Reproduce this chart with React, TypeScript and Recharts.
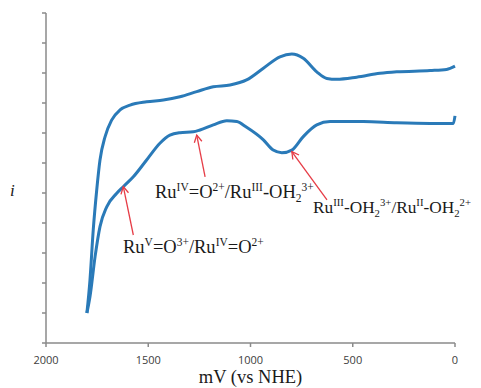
import React from "react";
import {
  LineChart,
  Line,
  XAxis,
  YAxis,
  ReferenceLine,
} from "recharts";

// forward (upper) and return (lower) branches, both starting at the 1800 mV turn
const upperPotential = [1800, 1785, 1769, 1752, 1736, 1711, 1679, 1638, 1589, 1508, 1426, 1345, 1263, 1182, 1100, 1019, 937, 856, 798, 742, 676, 627, 578, 481, 367, 285, 122, 41, 0];
const upperCurrent = [1.0, 2.1, 3.77, 5.1, 6.1, 6.88, 7.43, 7.77, 7.93, 8.04, 8.1, 8.21, 8.38, 8.54, 8.6, 8.77, 9.16, 9.54, 9.63, 9.49, 9.04, 8.82, 8.79, 8.86, 8.99, 9.04, 9.08, 9.12, 9.23];

const lowerPotential = [1800, 1785, 1760, 1736, 1703, 1654, 1622, 1573, 1508, 1443, 1394, 1345, 1280, 1247, 1182, 1116, 1067, 1019, 937, 889, 847, 798, 742, 676, 611, 448, 285, 122, 8, 0];
const lowerCurrent = [1.0, 1.54, 2.88, 3.88, 4.54, 4.99, 5.21, 5.54, 6.1, 6.66, 6.93, 7.01, 7.04, 7.1, 7.27, 7.41, 7.38, 7.19, 6.77, 6.43, 6.34, 6.43, 6.88, 7.27, 7.38, 7.38, 7.34, 7.32, 7.32, 7.57];

const xTicks = [0, 500, 1000, 1500, 2000];
const yTicks = [0, 1, 2, 3, 4, 5, 6, 7, 8, 9, 10, 11];

// arrows: [tail, tip] in data coords
const arrowRuIV = [{ x: 1222, y: 5.54 }, { x: 1263, y: 6.93 }];
const arrowRuV = [{ x: 1573, y: 3.6 }, { x: 1622, y: 5.21 }];
const arrowRuIII = [{ x: 626, y: 4.77 }, { x: 798, y: 6.38 }];

const upperData = upperPotential.map((mv, i) => ({ mv, i: upperCurrent[i] }));
const lowerData = lowerPotential.map((mv, i) => ({ mv, i: lowerCurrent[i] }));

const BLUE = "#2a7ab8";
const RED = "#e63c46";
const AXIS = "#8a8a8a";
const SERIF = "'Liberation Serif', serif";

const arrowShape = (props: any) => {
  const { x1, y1, x2, y2 } = props;
  const a = Math.atan2(y2 - y1, x2 - x1);
  const len = 8;
  const spread = 0.5;
  const hx1 = x2 - len * Math.cos(a - spread);
  const hy1 = y2 - len * Math.sin(a - spread);
  const hx2 = x2 - len * Math.cos(a + spread);
  const hy2 = y2 - len * Math.sin(a + spread);
  return (
    <g>
      <line x1={x1} y1={y1} x2={x2} y2={y2} stroke={RED} strokeWidth={1.3} />
      <polyline
        points={`${hx1},${hy1} ${x2},${y2} ${hx2},${hy2}`}
        fill="none"
        stroke={RED}
        strokeWidth={1.3}
      />
    </g>
  );
};

type Part = { t: string; s?: "sup" | "sub" };

// label text with super/subscripts done by dy shifts
const Formula = ({ x, y, parts, size = 18.5 }: { x: number; y: number; parts: Part[]; size?: number }) => {
  let level = 0;
  const offs = { sup: -7, sub: 4 } as Record<string, number>;
  const small = size * 0.62;
  return (
    <text x={x} y={y} fontFamily={SERIF} fontSize={size} fill="#1a1a1a">
      {parts.map((p, k) => {
        const target = p.s ? offs[p.s] : 0;
        const dy = target - level;
        level = target;
        return (
          <tspan key={k} dy={dy} fontSize={p.s ? small : size}>
            {p.t}
          </tspan>
        );
      })}
    </text>
  );
};

export default function App() {
  return (
    <div style={{ position: "absolute", left: 0, top: 0, width: 481, height: 388, background: "#fff", overflow: "hidden" }}>
      <LineChart
        width={481}
        height={388}
        margin={{ top: 13, right: 26, bottom: 5, left: 6 }}
      >
        <XAxis
          type="number"
          dataKey="mv"
          domain={[0, 2000]}
          reversed
          ticks={xTicks}
          tickSize={4}
          tickMargin={9}
          height={40}
          stroke={AXIS}
          strokeWidth={1.5}
          tickLine={{ stroke: AXIS, strokeWidth: 1.5 }}
          tick={{ fill: "#404040", fontSize: 11, fontFamily: "'Open Sans', sans-serif" }}
          label={{
            value: "mV (vs NHE)",
            position: "insideBottom",
            offset: 0,
            fill: "#1a1a1a",
            fontSize: 18.5,
            fontFamily: SERIF,
          }}
        />
        <YAxis
          type="number"
          domain={[0, 11]}
          ticks={yTicks}
          width={40}
          tickSize={4}
          tickFormatter={() => ""}
          stroke={AXIS}
          strokeWidth={1.5}
          tickLine={{ stroke: AXIS, strokeWidth: 1.5 }}
          label={{
            value: "i",
            position: "insideLeft",
            offset: 4,
            dy: 12,
            fill: "#1a1a1a",
            fontSize: 17,
            fontStyle: "italic",
            fontFamily: SERIF,
          }}
        />
        <Line
          data={upperData}
          dataKey="i"
          type="monotone"
          stroke={BLUE}
          strokeWidth={3}
          dot={false}
          isAnimationActive={false}
        />
        <Line
          data={lowerData}
          dataKey="i"
          type="monotone"
          stroke={BLUE}
          strokeWidth={3}
          dot={false}
          isAnimationActive={false}
        />
        <ReferenceLine segment={arrowRuIV} shape={arrowShape} />
        <ReferenceLine segment={arrowRuV} shape={arrowShape} />
        <ReferenceLine segment={arrowRuIII} shape={arrowShape} />
      </LineChart>
      <svg
        width={481}
        height={388}
        style={{ position: "absolute", left: 0, top: 0, pointerEvents: "none" }}
      >
        <Formula
          x={155}
          y={198}
          parts={[
            { t: "Ru" }, { t: "IV", s: "sup" }, { t: "=O" }, { t: "2+", s: "sup" },
            { t: "/Ru" }, { t: "III", s: "sup" }, { t: "-OH" }, { t: "2", s: "sub" }, { t: "3+", s: "sup" },
          ]}
        />
        <Formula
          x={123}
          y={253}
          parts={[
            { t: "Ru" }, { t: "V", s: "sup" }, { t: "=O" }, { t: "3+", s: "sup" },
            { t: "/Ru" }, { t: "IV", s: "sup" }, { t: "=O" }, { t: "2+", s: "sup" },
          ]}
        />
        <Formula
          x={313}
          y={213}
          size={17.3}
          parts={[
            { t: "Ru" }, { t: "III", s: "sup" }, { t: "-OH" }, { t: "2", s: "sub" }, { t: "3+", s: "sup" },
            { t: "/Ru" }, { t: "II", s: "sup" }, { t: "-OH" }, { t: "2", s: "sub" }, { t: "2+", s: "sup" },
          ]}
        />
      </svg>
    </div>
  );
}
